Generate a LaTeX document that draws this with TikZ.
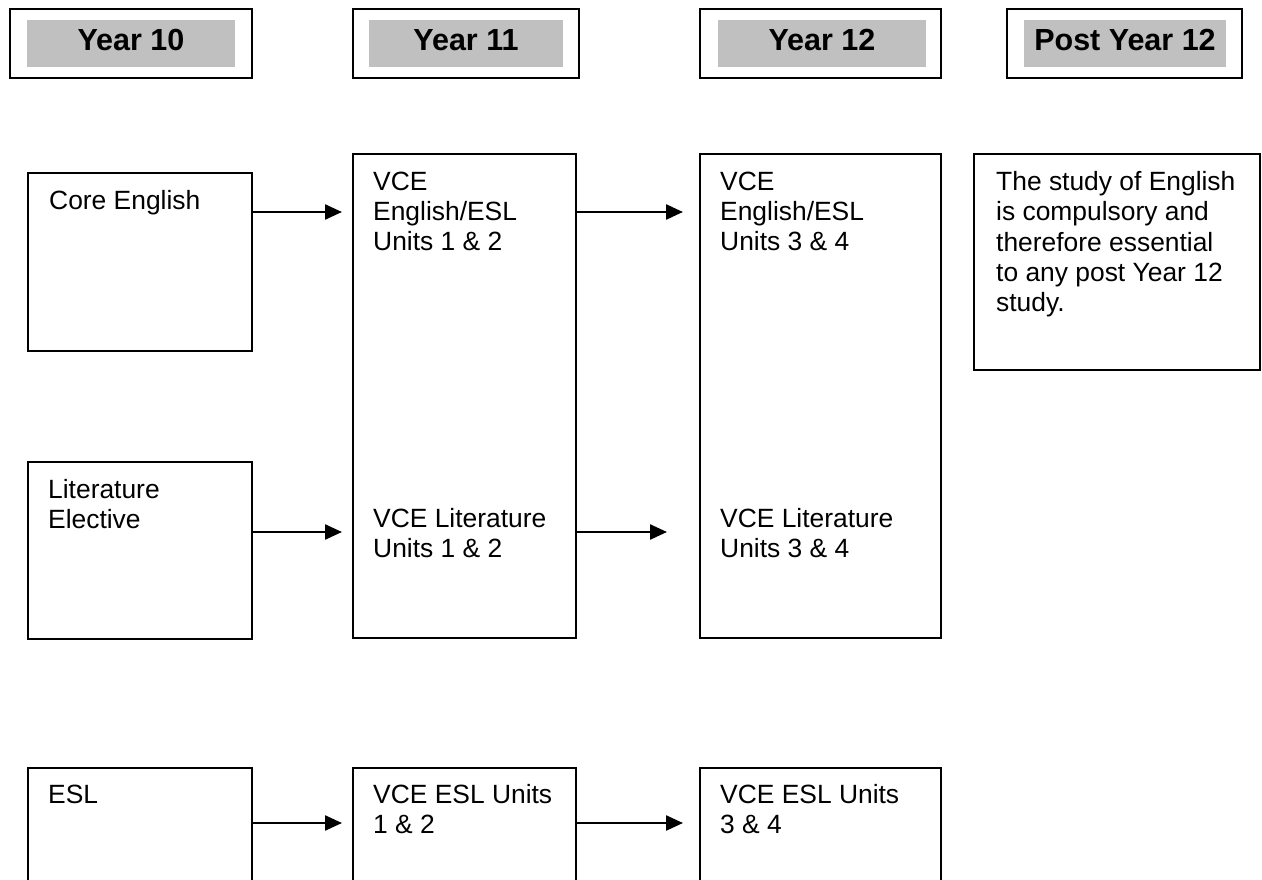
\documentclass[tikz,border=0pt]{standalone}
\usepackage{fontspec}
\setmainfont{Liberation Sans}
\usetikzlibrary{arrows.meta,calc}
\definecolor{bandgray}{HTML}{C0C0C0}
\begin{document}
\begin{tikzpicture}[x=1pt,y=-1pt,
  box/.style={draw=black, line width=1.4pt, anchor=north west, inner sep=0pt, outer sep=0pt},
  hdr/.style={draw=black, line width=1.8pt, anchor=north west, inner sep=0pt, outer sep=0pt},
  band/.style={fill=bandgray, anchor=north west, inner sep=0pt},
  hdrtxt/.style={font=\fontsize{30.5}{34}\selectfont\bfseries, anchor=base, inner sep=0pt},
  txt/.style={font=\fontsize{26.4}{30.4}\selectfont, anchor=north west, align=left, inner sep=0pt},
  flow/.style={line width=2.4pt, -{Triangle[length=17pt,width=15pt]}}]
\useasboundingbox (0,0) rectangle (1262,880);
\clip (0,0) rectangle (1262,880);

% column headers
\node[hdr, minimum width=242pt, minimum height=69pt] (h10) at (10,9) {};
\node[band, minimum width=208pt, minimum height=47pt] (b10) at (27,20) {};
\node[hdrtxt] (t10) at (131,51) {Year 10};

\node[hdr, minimum width=226pt, minimum height=69pt] (h11) at (353,9) {};
\node[band, minimum width=194pt, minimum height=47pt] (b11) at (369,20) {};
\node[hdrtxt] (t11) at (466,51) {Year 11};

\node[hdr, minimum width=241pt, minimum height=69pt] (h12) at (700,9) {};
\node[band, minimum width=208pt, minimum height=47pt] (b12) at (718,20) {};
\node[hdrtxt] (t12) at (822,51) {Year 12};

\node[hdr, minimum width=235pt, minimum height=69pt] (hp) at (1007,9) {};
\node[band, minimum width=202pt, minimum height=47pt] (bp) at (1024,20) {};
\node[hdrtxt] (tp) at (1125,51) {Post Year 12};

% Year 10 boxes
\node[box, minimum width=224pt, minimum height=178pt] (core) at (28,173) {};
\node[txt] (coret) at (49,189) {\rule{0pt}{20pt}Core English};
\node[box, minimum width=224pt, minimum height=177pt] (lit) at (28,462) {};
\node[txt] (litt) at (48,478) {\rule{0pt}{20pt}Literature\\Elective};
\node[box, minimum width=224pt, minimum height=160pt] (esl) at (28,768) {};
\node[txt] (eslt) at (48,783) {\rule{0pt}{20pt}ESL};

% Year 11 boxes
\node[box, minimum width=223pt, minimum height=484pt] (e11) at (353,154) {};
\node[txt] (e11t) at (373,170) {\rule{0pt}{20pt}VCE\\English/ESL\\Units 1 \& 2};
\node[txt] (l11t) at (373,507) {\rule{0pt}{20pt}VCE Literature\\Units 1 \& 2};
\node[box, minimum width=223pt, minimum height=160pt] (s11) at (353,768) {};
\node[txt] (s11t) at (373,783) {\rule{0pt}{20pt}VCE ESL Units\\1 \& 2};

% Year 12 boxes
\node[box, minimum width=241pt, minimum height=484pt] (e12) at (700,154) {};
\node[txt] (e12t) at (720,170) {\rule{0pt}{20pt}VCE\\English/ESL\\Units 3 \& 4};
\node[txt] (l12t) at (720,507) {\rule{0pt}{20pt}VCE Literature\\Units 3 \& 4};
\node[box, minimum width=241pt, minimum height=160pt] (s12) at (700,768) {};
\node[txt] (s12t) at (720,783) {\rule{0pt}{20pt}VCE ESL Units\\3 \& 4};

% Post Year 12 note
\node[box, minimum width=286pt, minimum height=216pt] (post) at (974,154) {};
\node[txt] (postt) at (996,170) {\rule{0pt}{20pt}The study of English\\is compulsory and\\therefore essential\\to any post Year 12\\study.};

% arrows
\path ([yshift=-39pt]core.north east) coordinate (a1);
\draw[flow, shorten >=11pt] (a1) -- (a1 -| e11.west);
\path ([yshift=-58pt]e11.north east) coordinate (a2);
\draw[flow, shorten >=17pt] (a2) -- (a2 -| e12.west);

\path ([yshift=-70pt]lit.north east) coordinate (a3);
\draw[flow, shorten >=11pt] (a3) -- (a3 -| e11.west);
\path ([yshift=-378pt]e11.north east) coordinate (a4);
\draw[flow, shorten >=33pt] (a4) -- (a4 -| e12.west);

\path ([yshift=-55pt]esl.north east) coordinate (a5);
\draw[flow, shorten >=11pt] (a5) -- (a5 -| s11.west);
\path ([yshift=-55pt]s11.north east) coordinate (a6);
\draw[flow, shorten >=17pt] (a6) -- (a6 -| s12.west);
\end{tikzpicture}
\end{document}
